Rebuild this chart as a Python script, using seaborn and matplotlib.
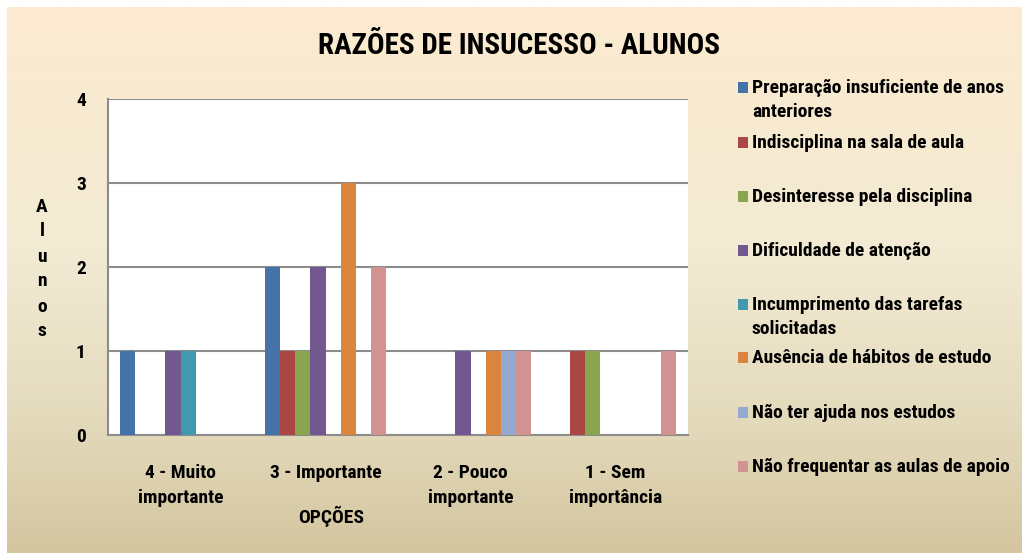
import numpy as np
import pandas as pd
import matplotlib
matplotlib.use("Agg")
import matplotlib.pyplot as plt
import seaborn as sns
from matplotlib.colors import LinearSegmentedColormap
from matplotlib.patches import Rectangle

# ---- data -------------------------------------------------------------
categories = ["4 - Muito\nimportante", "3 - Importante",
              "2 - Pouco\nimportante", "1 - Sem\nimportância"]
series_names = [
    "Preparação insuficiente de anos\nanteriores",
    "Indisciplina na sala de aula",
    "Desinteresse pela disciplina",
    "Dificuldade de atenção",
    "Incumprimento das tarefas\nsolicitadas",
    "Ausência de hábitos de estudo",
    "Não ter ajuda nos estudos",
    "Não frequentar as aulas de apoio",
]
preparacao = [1, 2, 0, 0]
indisciplina = [0, 1, 0, 1]
desinteresse = [0, 1, 0, 1]
dificuldade = [1, 2, 1, 0]
incumprimento = [1, 0, 0, 0]
ausencia = [0, 3, 1, 0]
nao_ajuda = [0, 0, 1, 0]
nao_frequentar = [0, 2, 1, 1]
y_ticks = [0, 1, 2, 3, 4]

colors = ["#4572A7", "#AA4643", "#89A54E", "#71588F",
          "#4198AF", "#DB843D", "#93A9CF", "#D19392"]

values = [preparacao, indisciplina, desinteresse, dificuldade,
          incumprimento, ausencia, nao_ajuda, nao_frequentar]
rows = []
for name, vals in zip(series_names, values):
    for cat, v in zip(categories, vals):
        rows.append({"opcao": cat, "razao": name, "alunos": v})
df = pd.DataFrame(rows)

# ---- style ------------------------------------------------------------
sns.set_style("white")
plt.rcParams["font.family"] = ["Roboto Condensed", "DejaVu Sans"]
plt.rcParams["font.stretch"] = "condensed"
plt.rcParams["font.weight"] = "bold"
plt.rcParams["text.color"] = "black"
plt.rcParams["ytick.color"] = "black"
plt.rcParams["xtick.color"] = "black"

FS = 14

W, H = 1022, 553
fig = plt.figure(figsize=(W / 100, H / 100), dpi=100)
fig.patch.set_facecolor("white")

# gradient backdrop
bg = fig.add_axes([7 / W, 0, 1 - 7 / W, 1 - 7 / H])
bg_cmap = LinearSegmentedColormap.from_list(
    "bg", [(0.0, "#FCEBCF"), (0.45, "#F2EAD3"), (0.75, "#E4DBBD"), (1.0, "#D4C59F")])
grad = np.linspace(0, 1, 256).reshape(-1, 1)
bg.imshow(grad, aspect="auto", cmap=bg_cmap, extent=[0, 1, 0, 1], origin="upper")
bg.set_axis_off()

# plot area
left, right, top, bottom = 108, 688, 99, 435
ax = fig.add_axes([left / W, 1 - bottom / H, (right - left) / W, (bottom - top) / H])
ax.set_facecolor("white")

sns.barplot(data=df, x="opcao", y="alunos", hue="razao",
            order=categories, hue_order=series_names, palette=colors,
            width=0.83, gap=0, saturation=1, errorbar=None,
            legend=False, linewidth=0, ax=ax, zorder=3)

ax.set_ylim(0, 4)
ax.set_yticks(y_ticks)
ax.set_yticklabels([str(t) for t in y_ticks], fontsize=FS, fontweight="bold")
ax.yaxis.grid(True, color="#8C8C8C", linewidth=1.5, zorder=0)
ax.set_axisbelow(True)
ax.tick_params(axis="y", length=0, pad=16)
ax.tick_params(axis="x", length=0, pad=21)
for lbl in ax.get_xticklabels():
    lbl.set_fontsize(FS)
    lbl.set_fontweight("bold")
    lbl.set_linespacing(1.5)
    lbl.set_verticalalignment("top")

for side in ["top", "right"]:
    ax.spines[side].set_visible(False)
for side in ["left", "bottom"]:
    ax.spines[side].set_color("#8C8C8C")
    ax.spines[side].set_linewidth(1.5)

ax.set_xlabel("")
ax.set_ylabel("")

fig.text(519 / W, 1 - 46 / H, "RAZÕES DE INSUCESSO - ALUNOS",
         ha="center", va="center", fontsize=21, fontweight="bold")
fig.text(331 / W, 1 - 516 / H, "OPÇÕES", ha="center", va="center",
         fontsize=FS, fontweight="bold")
fig.text(42 / W, 1 - 269 / H, "\n".join("Alunos"), ha="center", va="center",
         fontsize=FS, fontweight="bold", linespacing=1.5)

# legend
leg_y = [87, 142, 196, 250, 304, 357, 412, 466]
for name, col, yy in zip(series_names, colors, leg_y):
    fig.patches.append(Rectangle((738 / W, 1 - (yy + 6) / H), 10 / W, 11 / H,
                                 transform=fig.transFigure, facecolor=col,
                                 edgecolor="none"))
    fig.text(752 / W, 1 - (yy - 8) / H, name, ha="left", va="top",
             fontsize=FS, fontweight="bold", linespacing=1.4)

fig.savefig("out.png", dpi=100)
